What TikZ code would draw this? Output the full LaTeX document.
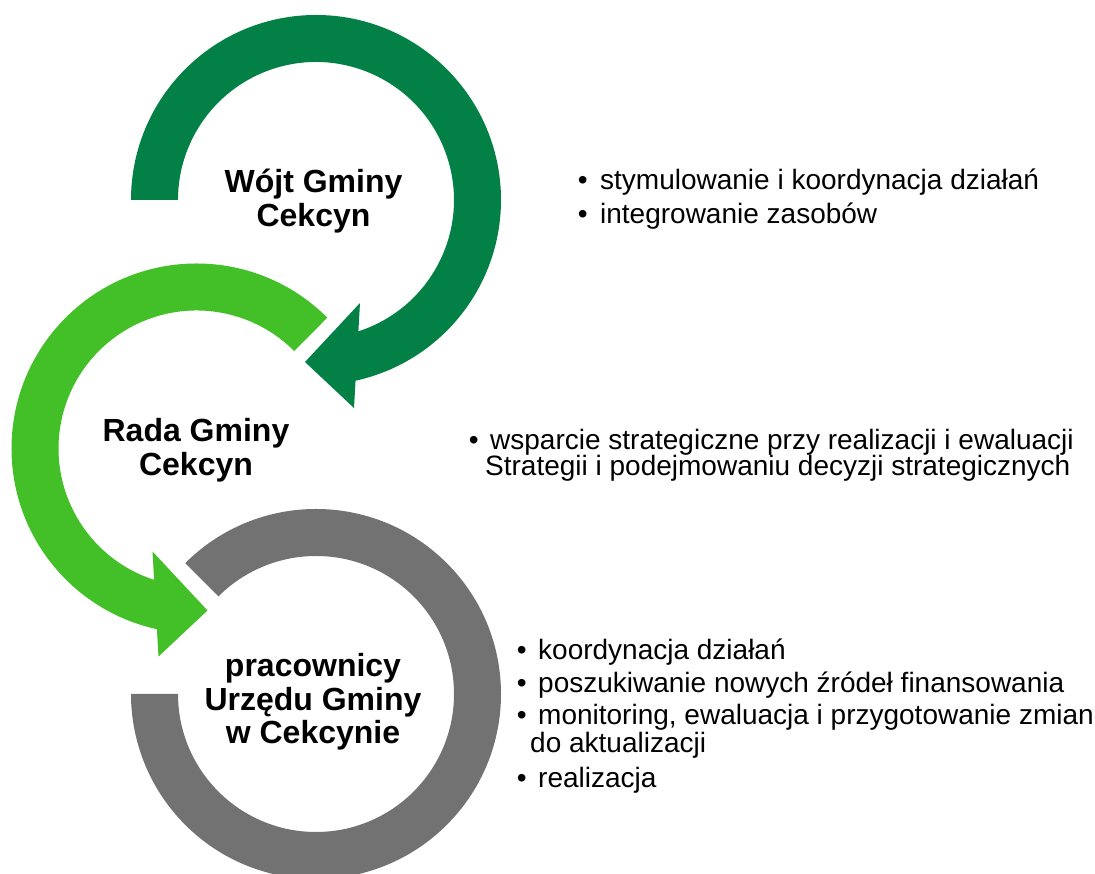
\documentclass[tikz,border=0pt]{standalone}
\usepackage{fontspec}
\setmainfont{Liberation Sans}
\usetikzlibrary{calc}
\definecolor{dkgreen}{RGB}{3,128,70}
\definecolor{ltgreen}{RGB}{67,191,40}
\definecolor{grayring}{RGB}{114,114,114}
\newcommand\bul[1]{\makebox[#1pt][l]{•}}
\tikzset{
  titletext/.style={font=\fontsize{32}{33}\selectfont\bfseries, anchor=base, inner sep=0pt},
  itemtext/.style={font=\fontsize{28}{34}\selectfont, anchor=base west, inner sep=0pt},
}
\begin{document}
\begin{tikzpicture}[x=1pt,y=1pt]
\useasboundingbox (0,0) rectangle (1095,874);
% centres
\coordinate (c1) at (316,674);
\coordinate (c2) at (196.5,425.5);
\coordinate (c3) at (316,180);
% dark green arrow
\fill[dkgreen] (131,674) arc[start angle=180, end angle=-77.65, radius=185pt]
  -- (354,466) -- (305,512) -- (360,571) -- (358.38,542.67)
  arc[start angle=-72.1, end angle=180, radius=138pt] -- cycle;
% light green arrow
\fill[ltgreen] ($(c2)+(45:185pt)$) arc[start angle=45, end angle=257.65, radius=185pt]
  -- (158.5,217.5) -- (207.5,263.5) -- (152.5,322.5) -- (154.12,294.17)
  arc[start angle=252.1, end angle=45, radius=138pt] -- cycle;
% gray ring
\fill[grayring] ($(c3)+(135:185pt)$) arc[start angle=135, end angle=-180, radius=185pt]
  -- ($(c3)+(-180:138pt)$) arc[start angle=-180, end angle=135, radius=138pt] -- cycle;
% titles
\node[titletext] (t1) at (313.5,681) {\begin{tabular}[t]{@{}c@{}}Wójt Gminy\\Cekcyn\end{tabular}};
\node[titletext] (t2) at (196,432) {\begin{tabular}[t]{@{}c@{}}Rada Gminy\\Cekcyn\end{tabular}};
\node[titletext] (t3) at (313,197) {\begin{tabular}[t]{@{}c@{}}pracownicy\\Urzędu Gminy\\w Cekcynie\end{tabular}};
% list 1
\node[itemtext] (l1a) at (577.6,684) {\bul{22.4}stymulowanie i koordynacja działań};
\node[itemtext] (l1b) at (577.6,650) {\bul{22.4}integrowanie zasobów};
% list 2
\node[itemtext] (l2a) at (468.6,424) {\bul{21.4}wsparcie strategiczne przy realizacji i ewaluacji};
\node[itemtext] (l2b) at (485,398) {Strategii i podejmowaniu decyzji strategicznych};
% list 3
\node[itemtext] (l3a) at (516.6,214) {\bul{21.4}koordynacja działań};
\node[itemtext] (l3b) at (516.6,181) {\bul{21.4}poszukiwanie nowych źródeł finansowania};
\node[itemtext] (l3c) at (516.6,149) {\bul{21.4}monitoring, ewaluacja i przygotowanie zmian};
\node[itemtext] (l3d) at (530,121) {do aktualizacji};
\node[itemtext] (l3e) at (516.6,86) {\bul{21.4}realizacja};
\end{tikzpicture}
\end{document}
